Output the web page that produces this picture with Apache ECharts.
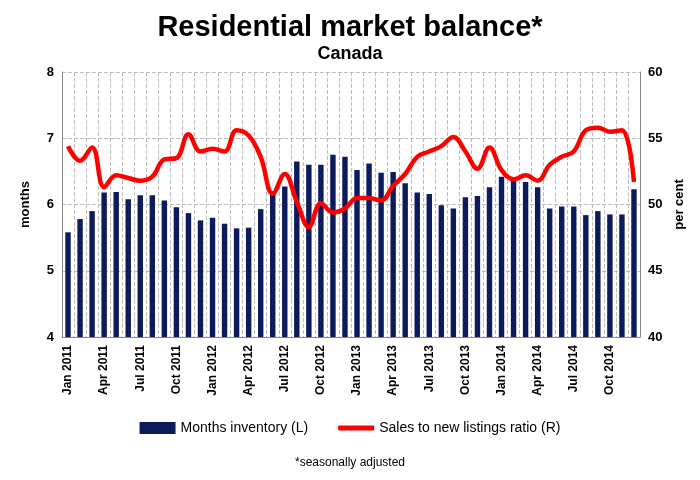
<!DOCTYPE html>
<html><head><meta charset="utf-8">
<script src="https://cdn.jsdelivr.net/npm/echarts@6/dist/echarts.min.js"></script>
<style>html,body{margin:0;background:#fff}#c{width:700px;height:480px}</style>
</head><body><div id="c"></div>
<script>
const monthNames = ['Jan','Feb','Mar','Apr','May','Jun','Jul','Aug','Sep','Oct','Nov','Dec']
const years = [2011, 2012, 2013, 2014]
const categories = []
years.forEach(y => monthNames.forEach(m => categories.push(m + ' ' + y)))

const monthsInventory = [5.58,5.78,5.9,6.18,6.19,6.08,6.14,6.14,6.06,5.96,5.87,5.76,
  5.8,5.71,5.64,5.65,5.93,6.2,6.27,6.65,6.6,6.6,6.75,6.72,
  6.52,6.62,6.48,6.49,6.32,6.18,6.16,5.99,5.94,6.11,6.13,6.26,
  6.42,6.36,6.34,6.26,5.94,5.97,5.97,5.84,5.9,5.85,5.85,6.23]
const salesRatio = [54.4,53.3,54.3,51.3,52.2,52.0,51.8,52.1,53.4,53.5,55.3,54.0,
  54.2,54.0,55.6,55.2,53.6,50.8,52.3,50.2,48.3,50.1,49.4,49.7,
  50.5,50.5,50.3,51.4,52.3,53.6,54.0,54.4,55.1,54.0,52.7,54.3,
  52.6,51.9,52.2,51.8,53.0,53.6,54.0,55.6,55.8,55.5,55.6,51.7]

const chart = echarts.init(document.getElementById('c'))
const dashed = { lineStyle: { color: '#bbb', type: 'dashed' } }
chart.setOption({
  animation: false,
  title: [
    { text: 'Residential market balance*', subtext: 'Canada', left: 'center', top: 8,
      textStyle: { fontSize: 29, fontWeight: 'bold', color: '#000', fontFamily: 'Liberation Sans' },
      subtextStyle: { fontSize: 18, fontWeight: 'bold', color: '#000', fontFamily: 'Liberation Sans' }, itemGap: 3 },
    { text: '*seasonally adjusted', left: 'center', top: 452,
      textStyle: { fontSize: 12, fontWeight: 'normal', color: '#000', fontFamily: 'Liberation Sans' } }
  ],
  legend: {
    bottom: 40, left: 'center', itemGap: 30,
    textStyle: { fontSize: 14, color: '#000', fontFamily: 'Liberation Sans' },
    data: [{ name: 'Months inventory (L)', icon: 'rect' },
      { name: 'Sales to new listings ratio (R)', icon: 'path://M0,0h36v5h-36z' }],
    itemWidth: 36, itemHeight: 12
  },
  grid: { left: 62, right: 60, top: 72, bottom: 143 },
  xAxis: {
    type: 'category', data: categories,
    axisLine: { lineStyle: { color: '#888' } },
    axisTick: { show: false },
    splitLine: { show: true, interval: 0, ...dashed },
    axisLabel: { interval: 2, rotate: 90, fontSize: 12, fontWeight: 'bold', color: '#000', fontFamily: 'Liberation Sans' }
  },
  yAxis: [
    { type: 'value', min: 4, max: 8, interval: 1, name: 'months', nameLocation: 'middle', nameGap: 30,
      nameTextStyle: { fontSize: 13, fontWeight: 'bold', color: '#000' },
      axisLine: { show: true, lineStyle: { color: '#888' } },
      axisLabel: { fontSize: 13, fontWeight: 'bold', color: '#000' }, splitLine: { show: true, ...dashed } },
    { type: 'value', min: 40, max: 60, interval: 5, name: 'per cent', nameLocation: 'middle', nameGap: 30,
      nameTextStyle: { fontSize: 13, fontWeight: 'bold', color: '#000' },
      axisLine: { show: true, lineStyle: { color: '#888' } },
      axisLabel: { fontSize: 13, fontWeight: 'bold', color: '#000' }, splitLine: { show: false } }
  ],
  series: [
    { name: 'Months inventory (L)', type: 'bar', data: monthsInventory, barWidth: '45%',
      itemStyle: { color: '#0d1a5c' } },
    { name: 'Sales to new listings ratio (R)', type: 'line', yAxisIndex: 1, data: salesRatio,
      smooth: 0.4, symbol: 'none', lineStyle: { color: '#ff0000', width: 4.5 }, itemStyle: { color: '#ff0000' } }
  ]
})
</script></body></html>
